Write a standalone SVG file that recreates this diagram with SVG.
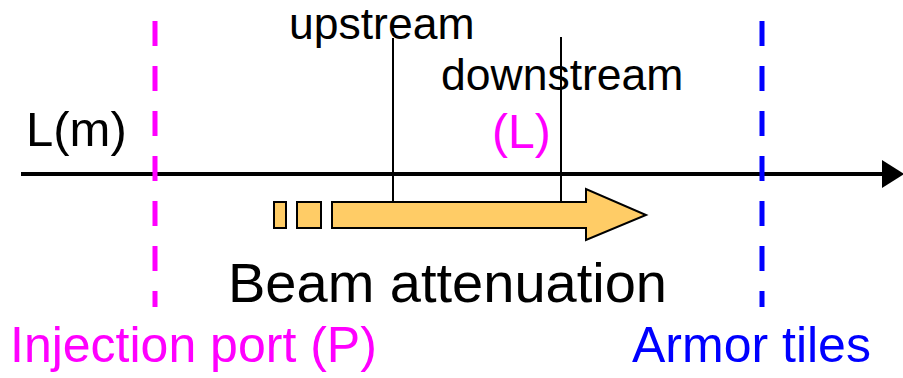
<svg xmlns="http://www.w3.org/2000/svg" width="903" height="378" viewBox="0 0 903 378">
  <style>
    text { font-family: "Liberation Sans", Arial, sans-serif; }
    .black { fill: #000; }
    .mag { fill: #ff00ff; }
    .blue { fill: #0000ff; }
    .beam { fill: #ffcc66; stroke: #000; stroke-width: 2; }
    .tick { stroke: #000; stroke-width: 2; fill: none; }
  </style>
  <defs>
    <marker id="axisHead" markerUnits="userSpaceOnUse" markerWidth="22" markerHeight="28" refX="0" refY="14" orient="auto">
      <path d="M0,0 L22,14 L0,28 Z" fill="#000"/>
    </marker>
  </defs>

  <!-- length axis and position ticks -->
  <g id="connectors">
    <line x1="21" y1="174" x2="882" y2="174" stroke="#000" stroke-width="4" marker-end="url(#axisHead)"/>
    <line class="tick" x1="393" y1="38" x2="393" y2="202"/>
    <line class="tick" x1="561" y1="37" x2="561" y2="207"/>
  </g>

  <!-- boundaries -->
  <g id="injection-port">
    <line x1="155" y1="21" x2="155" y2="307" stroke="#ff00ff" stroke-width="5" stroke-dasharray="25 20"/>
    <text class="mag" x="10" y="362" font-size="50">Injection port (P)</text>
  </g>
  <g id="armor-tiles">
    <line x1="762" y1="21" x2="762" y2="307" stroke="#0000ff" stroke-width="5" stroke-dasharray="25 20"/>
    <text class="blue" x="632" y="362" font-size="50">Armor tiles</text>
  </g>

  <!-- axis labels -->
  <g id="axis-label">
    <text class="black" x="26" y="146" font-size="49">L(m)</text>
  </g>
  <g id="upstream">
    <text class="black" x="289" y="39" font-size="44.5">upstream</text>
  </g>
  <g id="downstream">
    <text class="black" x="441" y="90" font-size="44.5">downstream</text>
  </g>
  <g id="length-L">
    <text class="mag" x="492" y="148" font-size="48">(L)</text>
  </g>

  <!-- beam -->
  <g id="beam">
    <rect class="beam" x="274" y="202" width="12" height="26"/>
    <rect class="beam" x="297" y="202" width="24" height="26"/>
    <path class="beam" d="M332,202 L586,202 L586,189 L646,215 L586,240 L586,228 L332,228 Z"/>
    <text class="black" x="228" y="302" font-size="56">Beam attenuation</text>
  </g>
</svg>
